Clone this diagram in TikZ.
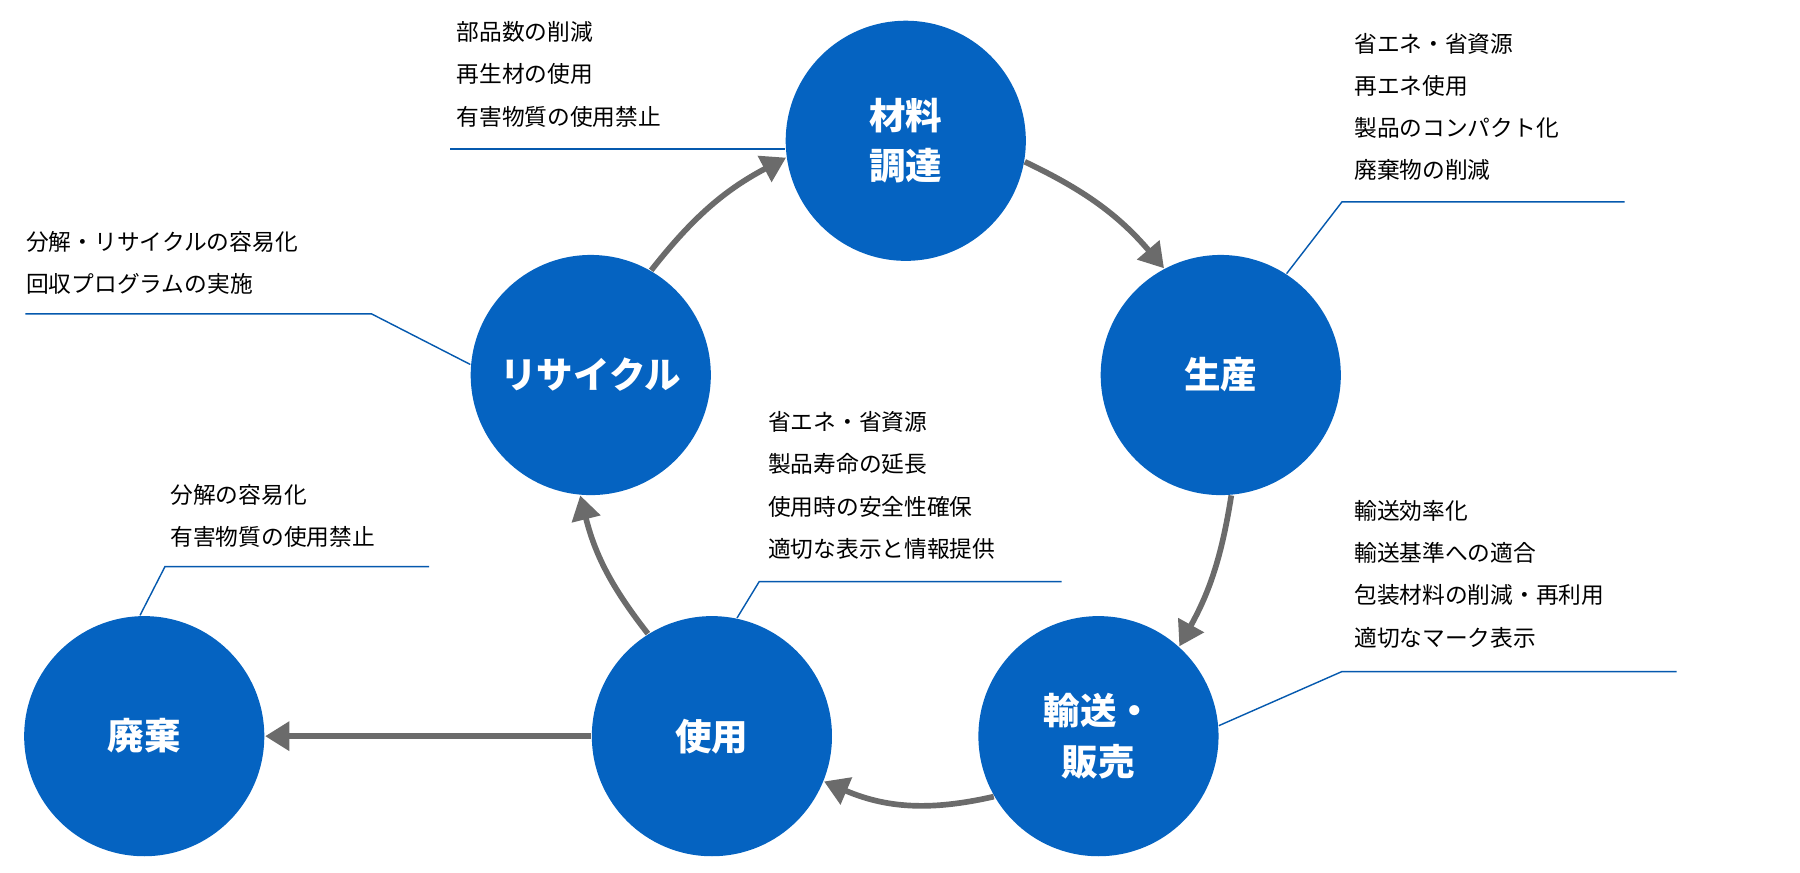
\documentclass[tikz,border=0pt]{standalone}
\usepackage{fontspec}
\setmainfont{Noto Sans CJK JP}
\usetikzlibrary{arrows.meta}
\definecolor{cb}{HTML}{0563C1}
\definecolor{ar}{HTML}{6B6B6B}
\begin{document}
\begin{tikzpicture}[x=0.01cm,y=-0.01cm,
  c/.style={circle,fill=cb,minimum size=2.08cm,inner sep=0,text=white,font=\fontsize{9pt}{12.5pt}\selectfont\bfseries,align=center},
  t/.style={anchor=north west,inner sep=0,align=left,font=\fontsize{5.6pt}{10.4pt}\selectfont},
  ln/.style={cb!90!black,line width=0.35pt},
  a/.style={ar,line width=1.4pt,-{Triangle[length=6pt,width=7pt]}}]
\useasboundingbox (0,0) rectangle (1560,756);
\node[c] (m) at (785,122) {材料\\調達};
\node[c] (p) at (1058,325) {生産};
\node[c] (r) at (512,325) {リサイクル};
\node[c] (u) at (617,638) {使用};
\node[c] (s) at (952,638) {輸送・\\販売};
\node[c] (h) at (125,638) {廃棄};
% texts
\node[t] (t1) at (395,18) {部品数の削減\\再生材の使用\\有害物質の使用禁止};
\node[t] (t2) at (1173,28) {省エネ・省資源\\再エネ使用\\製品のコンパクト化\\廃棄物の削減};
\node[t] (t3) at (22,200) {分解・リサイクルの容易化\\回収プログラムの実施};
\node[t] (t4) at (665,356) {省エネ・省資源\\製品寿命の延長\\使用時の安全性確保\\適切な表示と情報提供};
\node[t] (t5) at (147,419) {分解の容易化\\有害物質の使用禁止};
\node[t] (t6) at (1173,433) {輸送効率化\\輸送基準への適合\\包装材料の削減・再利用\\適切なマーク表示};
% leader lines
\coordinate (l1) at (390,129);
\draw[ln] (l1) -- (m.west|-l1);
\coordinate (l2a) at (1408,175); \coordinate (l2b) at (1163,175);
\draw[ln] (l2a) -- (l2b) -- (p.57);
\coordinate (l3a) at (22,272); \coordinate (l3b) at (322,272);
\draw[ln] (l3a) -- (l3b) -- (r.175);
\coordinate (l4a) at (920,504); \coordinate (l4b) at (658,504);
\draw[ln] (l4a) -- (l4b) -- (u.78);
\coordinate (l5a) at (372,491); \coordinate (l5b) at (143,491);
\draw[ln] (l5a) -- (l5b) -- (h.92);
\coordinate (l6a) at (1453,582); \coordinate (l6b) at (1163,582);
\draw[ln] (l6a) -- (l6b) -- (s.5);
% arrows
\draw[a] (m.-10) to[bend left=12] (p.118);
\draw[a] (p.-85) to[bend left=10] (s.48);
\draw[a] (s.-150) to[bend left=18] (u.-22);
\draw[a] (u.122) to[bend left=12] (r.-95);
\draw[a] (r.60) to[bend left=12] (m.188);
\draw[a] (u.west) -- (h.east);
\end{tikzpicture}
\end{document}
